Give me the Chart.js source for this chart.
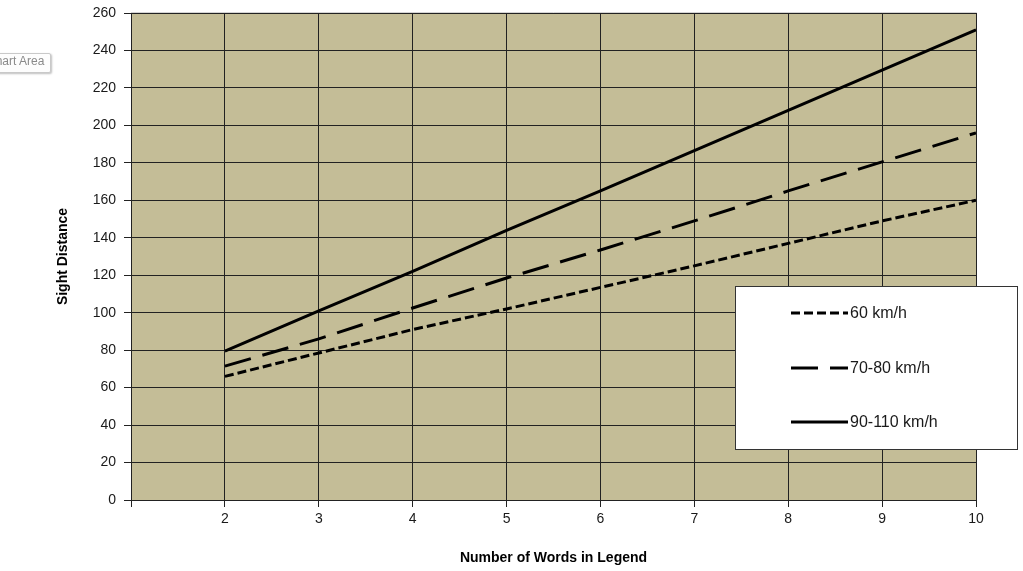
<!DOCTYPE html>
<html>
<head>
<meta charset="utf-8">
<script src="https://cdn.jsdelivr.net/npm/chart.js@4.4.1/dist/chart.umd.min.js"></script>
<style>
  html, body { margin: 0; padding: 0; background: #ffffff; overflow: hidden; }
  #wrap { position: relative; width: 1023px; height: 571px; }
  canvas { display: block; }
  #tip {
    position: absolute; left: -20px; top: 53px; height: 18px; line-height: 18px;
    padding: 0 6px 0 6px; font: 12px "Liberation Sans", Arial, sans-serif; color: #8a8a8a;
    background: #fdfdfd; border: 1px solid #c9c9c9; border-radius: 2px;
    box-shadow: 1px 1px 2px rgba(0,0,0,0.25);
  }
</style>
</head>
<body>
<div id="wrap">
  <canvas id="c" width="1023" height="571"></canvas>
  <div id="tip">Chart Area</div>
</div>
<script>
// Number of words in the sign legend
const words = [2, 3, 4, 5, 6, 7, 8, 9, 10];

// Required sight distance for each operating speed
const speed60 = [66, 78.5, 91, 102, 113.5, 125, 137, 149, 160];
const speed70to80 = [71.5, 86, 102.5, 118.5, 133.5, 149, 165, 180.5, 196];
const speed90to110 = [79.5, 101, 122, 144, 165, 186.5, 208, 229.5, 251];

const seriesNames = ['60 km/h', '70-80 km/h', '90-110 km/h'];
const yTicks = [0, 20, 40, 60, 80, 100, 120, 140, 160, 180, 200, 220, 240, 260];

const FONT = '"Liberation Sans", Arial, sans-serif';

function toPoints(values) {
  return words.map((w, i) => ({ x: w, y: values[i] }));
}

// Tan plot background with light top/right edges
const plotBackground = {
  id: 'plotBackground',
  beforeDraw(chart) {
    const { ctx, chartArea: a } = chart;
    ctx.save();
    ctx.fillStyle = '#c4bd97';
    ctx.fillRect(a.left, a.top, a.right - a.left, a.bottom - a.top);
    ctx.strokeStyle = '#d4d4d4';
    ctx.lineWidth = 1;
    ctx.beginPath();
    ctx.moveTo(a.left, a.top - 0.5);
    ctx.lineTo(a.right + 0.5, a.top - 0.5);
    ctx.lineTo(a.right + 0.5, a.bottom);
    ctx.stroke();
    ctx.restore();
  }
};

// Boxed legend drawn over the lower right of the plot
const boxLegend = {
  id: 'boxLegend',
  afterDraw(chart) {
    const { ctx } = chart;
    const box = { x: 735.5, y: 286.5, w: 282, h: 163 };
    ctx.save();
    ctx.fillStyle = '#ffffff';
    ctx.fillRect(box.x, box.y, box.w, box.h);
    ctx.strokeStyle = '#333333';
    ctx.lineWidth = 1;
    ctx.strokeRect(box.x, box.y, box.w, box.h);
    const rows = [313, 368, 422];
    chart.data.datasets.forEach((ds, i) => {
      const y = rows[i];
      ctx.beginPath();
      ctx.setLineDash(ds.borderDash || []);
      ctx.lineWidth = ds.borderWidth;
      ctx.strokeStyle = ds.borderColor;
      ctx.lineCap = 'butt';
      ctx.moveTo(791, y);
      ctx.lineTo(848, y);
      ctx.stroke();
      ctx.setLineDash([]);
      ctx.fillStyle = '#1a1a1a';
      ctx.font = '16px ' + FONT;
      ctx.textBaseline = 'middle';
      ctx.textAlign = 'left';
      ctx.fillText(ds.label, 850, y + 1);
    });
    ctx.restore();
  }
};

const chart = new Chart(document.getElementById('c'), {
  type: 'line',
  data: {
    datasets: [
      { label: seriesNames[0], data: toPoints(speed60), borderDash: [9, 4] },
      { label: seriesNames[1], data: toPoints(speed70to80), borderDash: [27, 12] },
      { label: seriesNames[2], data: toPoints(speed90to110), borderDash: [] }
    ].map(d => Object.assign(d, {
      borderColor: '#000000', borderWidth: 3, pointRadius: 0, tension: 0, fill: false
    }))
  },
  options: {
    responsive: false,
    animation: false,
    layout: { padding: { top: 13, right: 47, bottom: 0, left: 55 } },
    plugins: { legend: { display: false }, tooltip: { enabled: false } },
    scales: {
      x: {
        type: 'linear', min: 1, max: 10,
        afterFit(s) { s.height = 71; },
        ticks: {
          stepSize: 1, color: '#1a1a1a', padding: 4,
          font: { family: FONT, size: 14 },
          callback: v => (v === 1 ? '' : String(v))
        },
        grid: { color: '#222222', lineWidth: 1, tickLength: 7, tickColor: '#222222', drawOnChartArea: true },
        border: { display: true, color: '#222222', width: 1 },
        title: {
          display: true, text: 'Number of Words in Legend', color: '#000000',
          font: { family: FONT, size: 14, weight: 'bold' }, padding: { top: 8, bottom: 4 }
        }
      },
      y: {
        min: 0, max: 260,
        afterFit(s) { s.width = 76; },
        afterBuildTicks(s) { s.ticks = yTicks.map(v => ({ value: v })); },
        ticks: { color: '#1a1a1a', padding: 8, font: { family: FONT, size: 14, lineHeight: 0.5 } },
        grid: { color: '#222222', lineWidth: 1, tickLength: 7, tickColor: '#222222' },
        border: { display: true, color: '#222222', width: 1 },
        title: {
          display: true, text: 'Sight Distance', color: '#000000',
          font: { family: FONT, size: 14, weight: 'bold' }, padding: { top: 0, bottom: 16 }
        }
      }
    }
  },
  plugins: [plotBackground, boxLegend]
});
</script>
</body>
</html>
